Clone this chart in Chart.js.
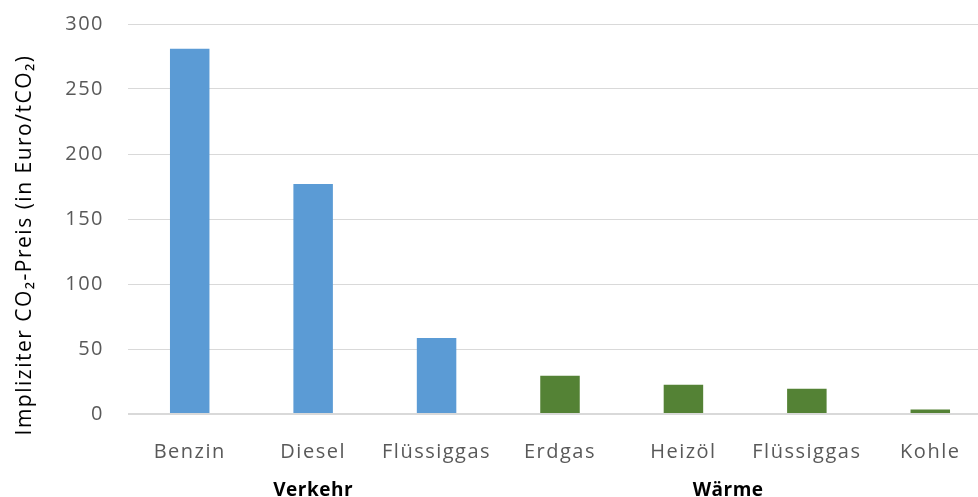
<!DOCTYPE html>
<html>
<head>
<meta charset="utf-8">
<script src="https://cdn.jsdelivr.net/npm/chart.js@4"></script>
<style>
  html, body { margin: 0; padding: 0; background: #fff; overflow: hidden; }
  #wrap { width: 992px; height: 497px; }
</style>
</head>
<body>
<div id="wrap"><canvas id="co2Chart"></canvas></div>
<script>
const categories = ['Benzin', 'Diesel', 'Flüssiggas', 'Erdgas', 'Heizöl', 'Flüssiggas', 'Kohle'];
const prices = [281, 177, 58.5, 29.5, 22.5, 19.5, 3.5];
const sectors = ['Verkehr', 'Verkehr', 'Verkehr', 'Wärme', 'Wärme', 'Wärme', 'Wärme'];
const groups = [
    { label: 'Verkehr', from: 0, to: 2 },
    { label: 'Wärme', from: 3, to: 6 }
];
const yTicks = [0, 50, 100, 150, 200, 250, 300];
const yTitle = 'Impliziter CO₂-Preis (in Euro/tCO₂)';
const sectorColors = { 'Verkehr': '#5b9bd5', 'Wärme': '#548235' };

// etwas Sperrung wie im Original (Excel-Export)
const spacing = {
    id: 'spacing',
    beforeLayout(chart) { chart.ctx.letterSpacing = '1.5px'; },
    beforeDraw(chart) { chart.ctx.letterSpacing = '1.5px'; }
};

// Achsentitel und Gruppenbeschriftung
const extraText = {
    id: 'extraText',
    afterDraw(chart) {
        const ctx = chart.ctx;
        const x = chart.scales.x;
        const step = x.getPixelForValue(1) - x.getPixelForValue(0);
        const visibleRight = 958;

        ctx.save();
        ctx.letterSpacing = '1.5px';
        ctx.font = '21px "Open Sans"';
        ctx.fillStyle = '#000';
        ctx.textAlign = 'center';
        ctx.textBaseline = 'middle';
        ctx.translate(25, 245);
        ctx.rotate(-Math.PI / 2);
        ctx.fillText(yTitle, 0, 0);
        ctx.restore();

        ctx.save();
        ctx.letterSpacing = '0.5px';
        ctx.font = 'bold 19px "Open Sans"';
        ctx.fillStyle = '#000';
        ctx.textAlign = 'center';
        ctx.textBaseline = 'middle';
        groups.forEach(g => {
            const left = x.getPixelForValue(g.from) - step / 2;
            const right = Math.min(x.getPixelForValue(g.to) + step / 2, visibleRight);
            ctx.fillText(g.label, (left + right) / 2, 491);
        });
        ctx.restore();
    }
};

const ctx = document.getElementById('co2Chart').getContext('2d');
new Chart(ctx, {
    type: 'bar',
    data: {
        labels: categories,
        datasets: [{
            data: prices,
            backgroundColor: sectors.map(s => sectorColors[s]),
            barPercentage: 0.32,
            categoryPercentage: 1
        }]
    },
    options: {
        responsive: true,
        maintainAspectRatio: false,
        animation: false,
        layout: { padding: { top: 24, right: 0, bottom: 29, left: 0 } },
        plugins: {
            legend: { display: false },
            tooltip: { enabled: false }
        },
        scales: {
            x: {
                grid: { display: false, drawTicks: false },
                border: { display: false },
                ticks: {
                    color: '#595959',
                    font: { family: 'Open Sans', size: 20 },
                    padding: 26,
                    maxRotation: 0,
                    autoSkip: false
                },
                afterFit(scale) { scale.height = 54; }
            },
            y: {
                min: 0,
                max: 300,
                afterBuildTicks(scale) { scale.ticks = yTicks.map(v => ({ value: v })); },
                grid: {
                    color: '#d9d9d9',
                    lineWidth: c => c.tick && c.tick.value === 0 ? 2 : 1,
                    drawTicks: false
                },
                border: { display: false },
                ticks: {
                    color: '#595959',
                    font: { family: 'Open Sans', size: 20 },
                    padding: 24
                },
                afterFit(scale) {
                    scale.width = 128;
                    scale.paddingTop = 0;
                    scale.paddingBottom = 0;
                }
            }
        }
    },
    plugins: [spacing, extraText]
});
</script>
</body>
</html>
